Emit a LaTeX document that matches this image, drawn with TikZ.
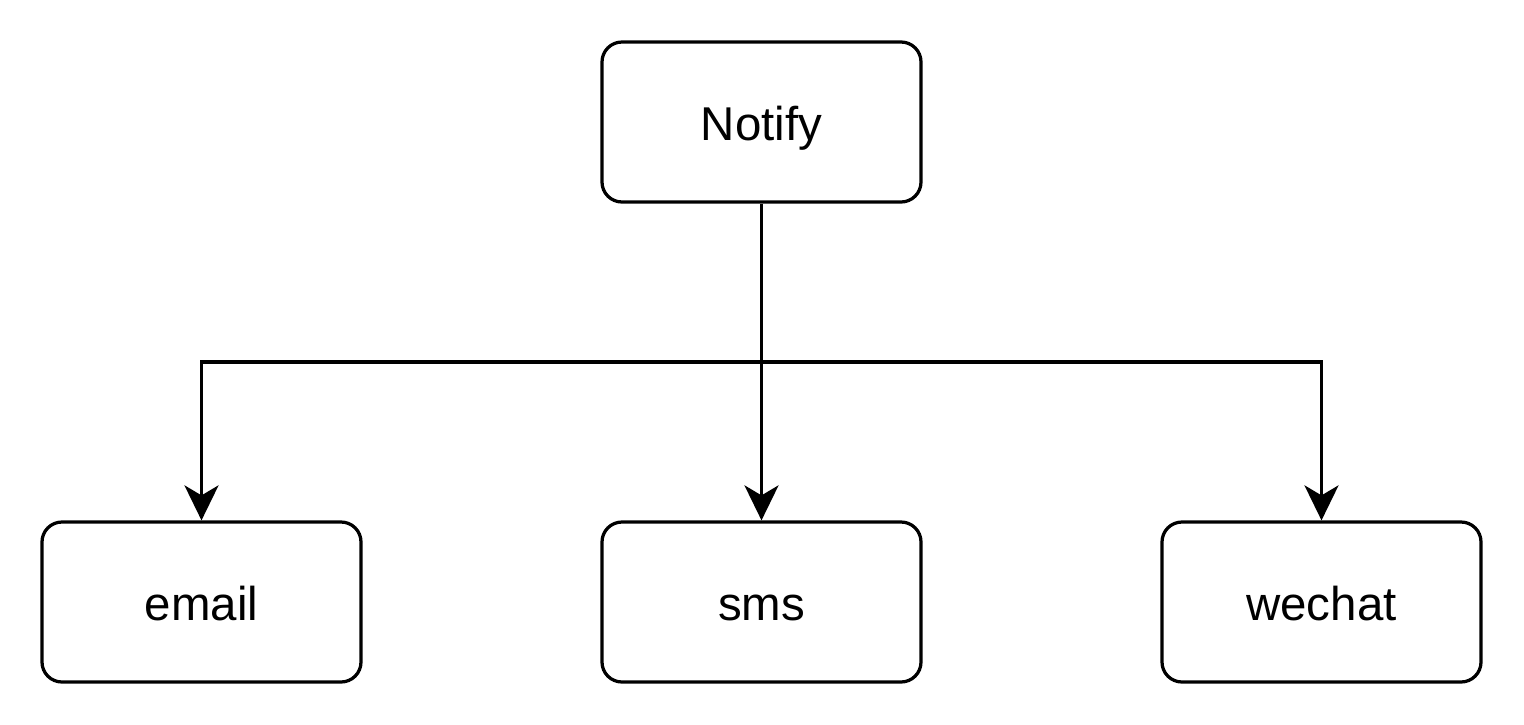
\documentclass[tikz,border=0pt]{standalone}
\usepackage{fontspec}
\setmainfont{Liberation Sans}
\usetikzlibrary{arrows.meta}

\begin{document}
\begin{tikzpicture}[
    box/.style={draw, rounded corners=0.4cm, line width=0.065cm, minimum width=6.38cm, minimum height=3.2cm, text height=0.9cm, text depth=0.18cm, font=\fontsize{27}{32}\selectfont},
    arr/.style={line width=0.065cm, -{Stealth[length=0.7cm, width=0.68cm, inset=0.2cm]}}
]
    \useasboundingbox (0,0) rectangle (30.48,-14.48);

    \node[box] (notify) at (15.23, -2.44) {Notify};
    \node[box] (email) at (4.03, -12.04) {email};
    \node[box] (sms) at (15.23, -12.04) {sms};
    \node[box] (wechat) at (26.43, -12.04) {wechat};

    \coordinate (split) at (15.23, -7.24);

    \draw[line width=0.065cm] (notify) -- (split);
    \draw[arr] (split) -| (email);
    \draw[arr] (split) -- (sms);
    \draw[arr] (split) -| (wechat);
\end{tikzpicture}
\end{document}
